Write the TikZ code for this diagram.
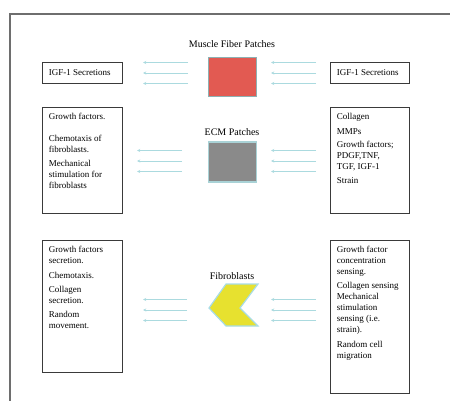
\documentclass[tikz,border=0pt]{standalone}
\usepackage{fontspec}
\setmainfont{Liberation Serif}
\usetikzlibrary{arrows.meta,calc}
\definecolor{framestroke}{HTML}{6E6E6E}
\definecolor{notestroke}{HTML}{3A3A3A}
\definecolor{musclefill}{HTML}{E25A52}
\definecolor{musclestroke}{HTML}{8DB0B2}
\definecolor{ecmfill}{HTML}{8A8A8A}
\definecolor{ecmstroke}{HTML}{A9D2D6}
\definecolor{fibfill}{HTML}{E7E12F}
\definecolor{fibstroke}{HTML}{A8DCE6}
\definecolor{feedstroke}{HTML}{ABDADF}
\tikzset{
  note/.style={
    rectangle, draw=notestroke, line width=0.8pt, minimum width=80pt,
    inner sep=0pt
  },
  notetext/.style={
    anchor=north west, align=left, inner sep=0pt,
    font=\fontsize{9}{11}\selectfont
  },
  patch/.style={
    rectangle, line width=1.4pt, minimum width=48pt, minimum height=39pt,
    inner sep=0pt
  },
  patchtitle/.style={font=\fontsize{10}{12}\selectfont, inner sep=0pt},
  feed/.style={
    -{Stealth[length=3.2pt,width=3pt]}, draw=feedstroke, line width=0.9pt
  }
}

\begin{document}
\begin{tikzpicture}[x=1pt,y=-1pt]
  \useasboundingbox (0,0) rectangle (450,401);
  \draw[framestroke, line width=1.2pt] (10,401) -- (10,14) -- (450,14);

  % Muscle fiber row
  \node[patchtitle] (mftitle) at (232,44) {Muscle Fiber Patches};
  \node[patch, draw=musclestroke, fill=musclefill] (mf) at (232.5,77) {};
  \node[note, minimum height=21pt] (mfleft) at (82,72.5) {};
  \node[notetext, anchor=west] (mflefttext) at ([xshift=7pt]mfleft.west) {IGF-1 Secretions};
  \node[note, minimum height=21pt, minimum width=79pt] (mfright) at (369.5,72.5) {};
  \node[notetext, anchor=west] (mfrighttext) at ([xshift=7pt]mfright.west) {IGF-1 Secretions};

  % ECM row
  \node[patchtitle] (ecmtitle) at (232,132) {ECM Patches};
  \node[patch, draw=ecmstroke, fill=ecmfill, minimum height=40pt] (ecm) at (232.5,162) {};
  \node[note, minimum height=106pt] (ecmleft) at (82,160) {};
  \node[notetext] (ecmlefttext) at ([xshift=7pt,yshift=-6pt]ecmleft.north west)
    {Growth factors.\\[11pt]Chemotaxis of\\fibroblasts.\\[3pt]Mechanical\\stimulation for\\fibroblasts};
  \node[note, minimum height=106pt, minimum width=79pt] (ecmright) at (369.5,160) {};
  \node[notetext] (ecmrighttext) at ([xshift=7pt,yshift=-6pt]ecmright.north west)
    {Collagen\\[4pt]MMPs\\[2pt]Growth factors;\\PDGF,TNF,\\TGF, IGF-1\\[3pt]Strain};

  % Fibroblast row
  \node[patchtitle] (fibtitle) at (232,276) {Fibroblasts};
  \coordinate (fib) at (233,308);
  \draw[fill=fibfill, draw=fibstroke, line width=1.2pt]
    ($(fib)+(-24,0)$) -- ($(fib)+(-7,-24)$) -- ($(fib)+(25,-24)$) -- ($(fib)+(7,0)$)
    -- ($(fib)+(25,18)$) -- ($(fib)+(-7,18)$) -- cycle;
  \node[note, minimum height=132pt] (fibleft) at (82,306) {};
  \node[notetext] (fiblefttext) at ([xshift=7pt,yshift=-6pt]fibleft.north west)
    {Growth factors\\secretion.\\[4pt]Chemotaxis.\\[3pt]Collagen\\secretion.\\[3pt]Random\\movement.};
  \node[note, minimum height=153pt, minimum width=79pt] (fibright) at (369.5,316.5) {};
  \node[notetext] (fibrighttext) at ([xshift=7pt,yshift=-6pt]fibright.north west)
    {Growth factor\\concentration\\sensing.\\[3pt]Collagen sensing\\Mechanical\\stimulation\\sensing (i.e.\\strain).\\[4pt]Random cell\\migration};

  % Feed arrows
  \coordinate (mfla) at (188,73);   \coordinate (mflb) at (143,73);
  \coordinate (mfra) at (316,73);   \coordinate (mfrb) at (271,73);
  \coordinate (ecmla) at (182,161); \coordinate (ecmlb) at (137,161);
  \coordinate (ecmra) at (316,161); \coordinate (ecmrb) at (271,161);
  \coordinate (fibla) at (187,310); \coordinate (fiblb) at (143,310);
  \coordinate (fibra) at (316,310); \coordinate (fibrb) at (271,310);
  \foreach \g in {mfl,mfr,ecml,ecmr,fibl,fibr}
    \foreach \dy in {10.5,0,-10.5}
      \draw[feed] ([yshift=\dy pt]\g a) -- ([yshift=\dy pt]\g b);
\end{tikzpicture}
\end{document}
